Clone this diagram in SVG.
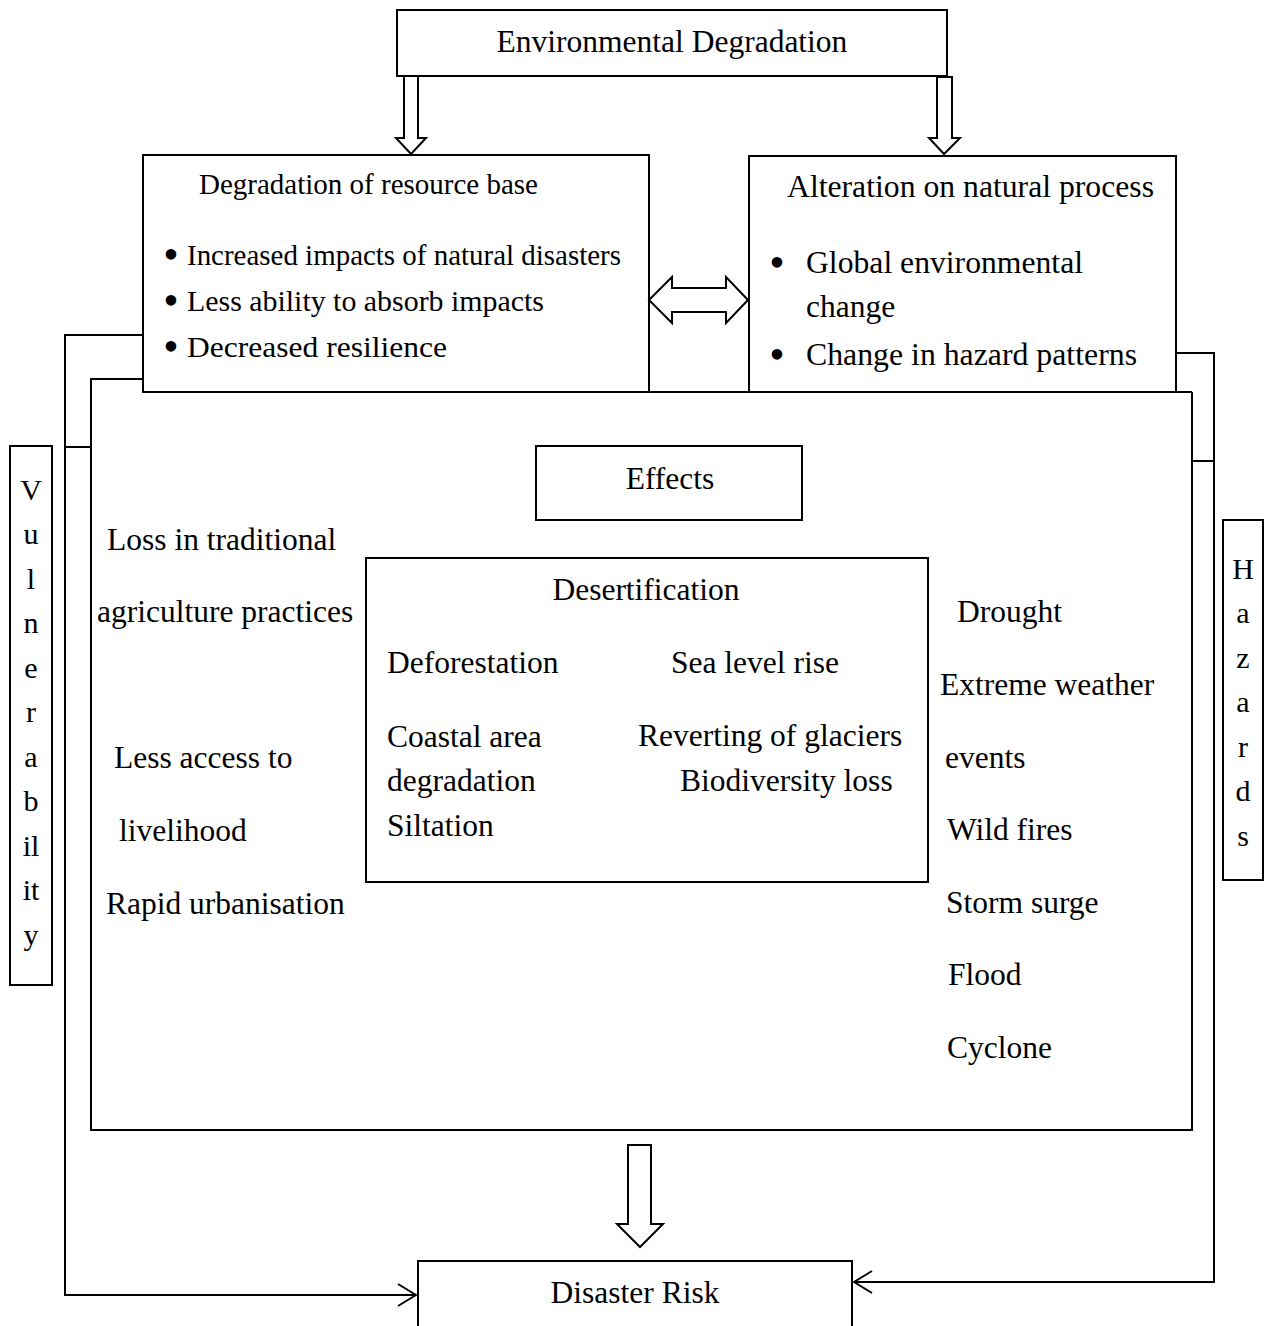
<svg xmlns="http://www.w3.org/2000/svg" width="1275" height="1326" viewBox="0 0 1275 1326">
<defs>
<style>
.box{fill:none;stroke:#000;stroke-width:2}
.ln{fill:none;stroke:#000;stroke-width:2}
.blk{fill:#fff;stroke:#000;stroke-width:2;stroke-linejoin:miter}
text{font-family:"Liberation Serif","Times New Roman",serif;fill:#000}
.t{font-size:31.5px}
.s{font-size:29px}
.b{font-size:44px;text-anchor:middle}
.v{font-size:30px;text-anchor:middle}
.m{text-anchor:middle}
</style>
<marker id="ah" viewBox="0 0 20 24" refX="19" refY="12" markerWidth="20" markerHeight="24" markerUnits="userSpaceOnUse" orient="auto">
<path d="M1,1 L19,12 L1,23" fill="none" stroke="#000" stroke-width="2"/>
</marker>
</defs>
<rect width="1275" height="1326" fill="#fff"/>

<g id="connectors">
<path class="ln" d="M143,335 H65 V1295 H416" marker-end="url(#ah)"/>
<path class="ln" d="M65,447 H91"/>
<path class="ln" d="M1176,353 H1214 V1282 H854" marker-end="url(#ah)"/>
<path class="ln" d="M1192,461 H1214"/>
<polygon class="blk" points="404,76 418,76 418,138 426,138 411,154 396,138 404,138"/>
<polygon class="blk" points="937,77 952,77 952,138 960,138 944,154 929,138 937,138"/>
<polygon class="blk" points="649,300 672,277 672,288 726,288 726,277 748,300 726,323 726,312 672,312 672,323"/>
<polygon class="blk" points="628,1145 651,1145 651,1224 663,1224 640,1247 617,1224 628,1224"/>
</g>

<g id="env-degradation">
<rect class="box" x="397" y="10" width="550" height="66"/>
<text class="t m" x="672" y="52">Environmental Degradation</text>
</g>

<g id="effects-frame">
<path class="ln" d="M143,379 H91 V1130 H1192 V392"/>
<path class="ln" d="M143,392 H1192"/>
</g>

<g id="resource-base">
<rect class="box" x="143" y="155" width="506" height="237" fill="#fff"/>
<text class="s" x="199" y="194" textLength="339" lengthAdjust="spacingAndGlyphs">Degradation of resource base</text>
<text class="b" x="171" y="269">•</text>
<text class="s" x="187" y="265" textLength="434" lengthAdjust="spacingAndGlyphs">Increased impacts of natural disasters</text>
<text class="b" x="171" y="315">•</text>
<text class="s" x="187" y="311" textLength="357" lengthAdjust="spacingAndGlyphs">Less ability to absorb impacts</text>
<text class="b" x="171" y="361">•</text>
<text class="s" x="187" y="357" textLength="260" lengthAdjust="spacingAndGlyphs">Decreased resilience</text>
</g>

<g id="natural-process">
<rect class="box" x="749" y="156" width="427" height="236"/>
<text class="t" x="787" y="197" textLength="367" lengthAdjust="spacingAndGlyphs">Alteration on natural process</text>
<text class="b" x="777" y="277">•</text>
<text class="t" x="806" y="273" textLength="277" lengthAdjust="spacingAndGlyphs">Global environmental</text>
<text class="t" x="806" y="317">change</text>
<text class="b" x="777" y="369">•</text>
<text class="t" x="806" y="365" textLength="331" lengthAdjust="spacingAndGlyphs">Change in hazard patterns</text>
</g>

<g id="effects">
<rect class="box" x="536" y="446" width="266" height="74"/>
<text class="t m" x="670" y="489">Effects</text>
</g>

<g id="vulnerability-effects">
<text class="t" x="107" y="550">Loss in traditional</text>
<text class="t" x="97" y="622">agriculture practices</text>
<text class="t" x="114" y="768">Less access to</text>
<text class="t" x="119" y="841">livelihood</text>
<text class="t" x="106" y="914">Rapid urbanisation</text>
</g>

<g id="desertification">
<rect class="box" x="366" y="558" width="562" height="324"/>
<text class="t m" x="646" y="600">Desertification</text>
<text class="t" x="387" y="673">Deforestation</text>
<text class="t" x="671" y="673">Sea level rise</text>
<text class="t" x="387" y="747">Coastal area</text>
<text class="t" x="638" y="746">Reverting of glaciers</text>
<text class="t" x="387" y="791">degradation</text>
<text class="t" x="680" y="791">Biodiversity loss</text>
<text class="t" x="387" y="836">Siltation</text>
</g>

<g id="hazard-effects">
<text class="t" x="957" y="622">Drought</text>
<text class="t" x="940" y="695">Extreme weather</text>
<text class="t" x="945" y="768">events</text>
<text class="t" x="947" y="840">Wild fires</text>
<text class="t" x="946" y="913">Storm surge</text>
<text class="t" x="948" y="985">Flood</text>
<text class="t" x="947" y="1058">Cyclone</text>
</g>

<g id="vulnerability">
<rect class="box" x="10" y="446" width="42" height="539"/>
<text class="v" x="31" y="500">V</text>
<text class="v" x="31" y="544">u</text>
<text class="v" x="31" y="589">l</text>
<text class="v" x="31" y="633">n</text>
<text class="v" x="31" y="678">e</text>
<text class="v" x="31" y="722">r</text>
<text class="v" x="31" y="767">a</text>
<text class="v" x="31" y="811">b</text>
<text class="v" x="31" y="856">il</text>
<text class="v" x="31" y="900">it</text>
<text class="v" x="31" y="945">y</text>
</g>

<g id="hazards">
<rect class="box" x="1223" y="520" width="40" height="360"/>
<text class="v" x="1243" y="579">H</text>
<text class="v" x="1243" y="623">a</text>
<text class="v" x="1243" y="668">z</text>
<text class="v" x="1243" y="712">a</text>
<text class="v" x="1243" y="757">r</text>
<text class="v" x="1243" y="801">d</text>
<text class="v" x="1243" y="846">s</text>
</g>

<g id="disaster-risk">
<path class="box" d="M418,1330 V1261 H852 V1330"/>
<text class="t m" x="635" y="1303">Disaster Risk</text>
</g>
</svg>
